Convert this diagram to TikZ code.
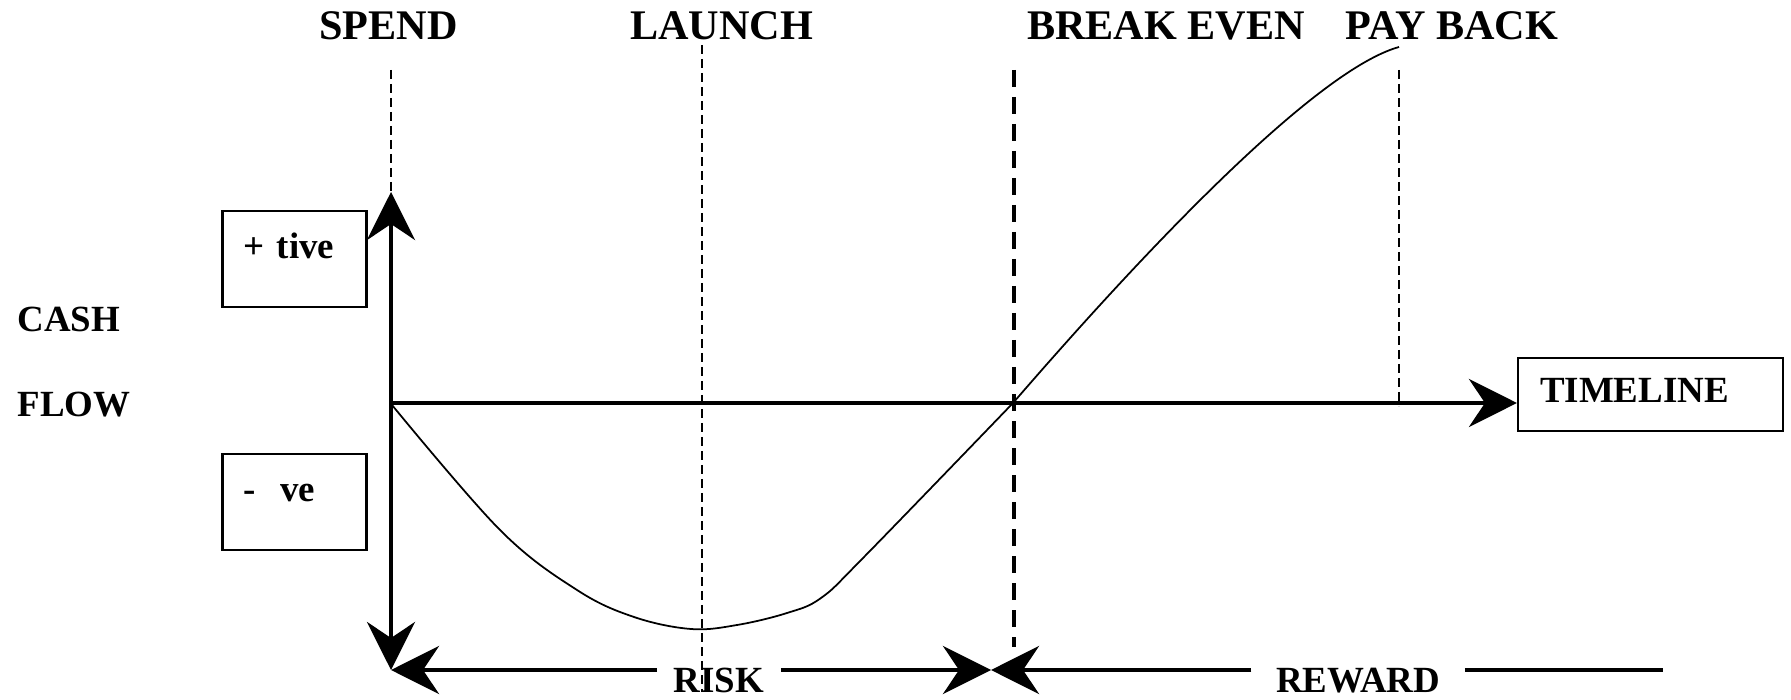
\documentclass[tikz,border=0pt]{standalone}
\usepackage{fontspec}
\setmainfont{Liberation Serif}
\usetikzlibrary{arrows.meta}

\begin{document}
\begin{tikzpicture}[font=\bfseries\fontsize{10.5}{12}\selectfont,
  >={Stealth[length=0.48cm, width=0.48cm, inset=0.16cm]},
  axisline/.style={line width=1.3pt},
  box/.style={draw, line width=0.6pt, text width=1.02cm, align=left, inner xsep=0.21cm, inner ysep=0.05cm, text height=0.43cm, text depth=0.43cm},
  thindash/.style={line width=0.5pt, dash pattern=on 0.09cm off 0.05cm},
  toplbl/.style={anchor=base, inner sep=0pt, font=\bfseries\fontsize{12}{14}\selectfont}]
  \useasboundingbox (0,0) rectangle (17.91,6.99);
  \coordinate (o) at (3.91,2.96);
  \coordinate (ytop) at (3.91,5.07);
  \coordinate (b) at (3.91,0.29);
  \coordinate (be) at (9.91,0.29);
  \coordinate (rend) at (16.63,0.29);
  % labels and boxes
  \node[box, text width=2.21cm, inner xsep=0.22cm, text height=0.40cm, text depth=0.23cm] (timeline) at (16.505,3.045) {TIMELINE};
  \node[box] (pos) at (2.945,4.40) {+ tive};
  \node[box] (neg) at (2.945,1.97) {-~~ve};
  \node[anchor=base west, inner sep=0pt] (cash) at (0.17,3.67) {CASH};
  \node[anchor=base west, inner sep=0pt] (flow) at (0.17,2.82) {FLOW};
  \foreach \x/\lbl/\nm in {3.885/SPEND/spend, 7.215/LAUNCH/launch, 11.66/BREAK EVEN/breakeven, 14.52/PAY BACK/payback}
    \node[toplbl] (\nm) at (\x,6.59) {\lbl};
  % dashed markers
  \draw[thindash] (3.91,6.29) -- (ytop);
  \draw[thindash] (7.02,6.54) -- (7.02,0.07);
  \draw[thindash] (13.99,6.29) -- (13.99,2.93);
  \draw[line width=1pt, dash pattern=on 0.17cm off 0.1cm] (10.14,6.29) -- (10.14,0.52);
  % axes
  \draw[axisline, <->] (ytop) -- (b);
  \draw[axisline, ->] (o) -- (o -| timeline.west);
  % cash curve
  \draw[line width=0.5pt] plot[smooth, tension=0.6] coordinates {(3.92,2.94) (5.00,1.69) (5.77,1.09) (6.34,0.82) (6.91,0.70) (7.37,0.74) (7.87,0.86) (8.21,1.01) (8.64,1.42) (10.13,2.96)}
    .. controls (11.6,4.66) and (13.2,6.3) .. (13.99,6.52);
  % risk and reward
  \node[anchor=base, inner xsep=0.16cm, inner ysep=0pt] (risk) at (7.19,0.07) {RISK};
  \node[anchor=base, inner xsep=0.24cm, inner ysep=0pt] (reward) at (13.58,0.07) {REWARD};
  \draw[axisline, ->] (risk.west |- b) -- (b);
  \draw[axisline, ->] (risk.east |- b) -- (be);
  \draw[axisline, ->] (reward.west |- be) -- (be);
  \draw[axisline] (reward.east |- be) -- (rend);
\end{tikzpicture}
\end{document}
